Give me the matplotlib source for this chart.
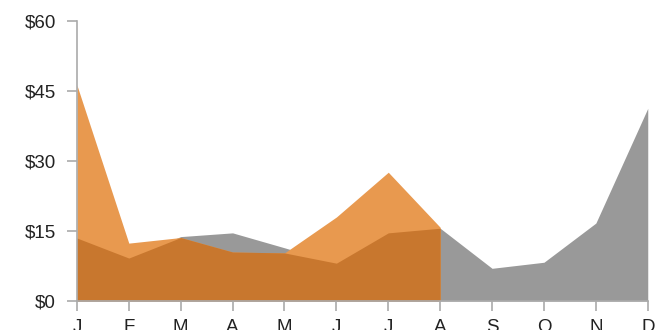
import numpy as np
import matplotlib.pyplot as plt

plt.rcParams['font.family'] = ['Liberation Sans', 'DejaVu Sans']

# Data
months = ['J', 'F', 'M', 'A', 'M', 'J', 'J', 'A', 'S', 'O', 'N', 'D']
gray_vals = [13.5, 9.2, 13.8, 14.6, 11.4, 8.1, 14.6, 15.6, 7.0, 8.3, 16.7, 41.3]
orange_vals = [46.3, 12.4, 13.6, 10.5, 10.3, 18.0, 27.6, 15.8]
y_ticks = [0, 15, 30, 45, 60]

x = np.arange(len(months))
xo = x[:len(orange_vals)]
overlap = np.minimum(np.array(gray_vals[:len(orange_vals)]), np.array(orange_vals))

fig = plt.figure(figsize=(6.63, 3.3), dpi=100)
ax = fig.add_axes([0.116, 0.088, 0.861, 0.848])

ax.fill_between(x, 0, gray_vals, color='#999999', lw=0)
ax.fill_between(xo, 0, orange_vals, color='#E8994F', lw=0)
ax.fill_between(xo, 0, overlap, color='#C8772E', lw=0)

ax.set_xlim(0, len(months) - 1)
ax.set_ylim(0, 60)
ax.set_xticks(x)
ax.set_xticklabels(months)
ax.set_yticks(y_ticks)
ax.set_yticklabels(['$' + str(v) for v in y_ticks])

for s in ['top', 'right']:
    ax.spines[s].set_visible(False)
for s in ['left', 'bottom']:
    ax.spines[s].set_color('#aaaaaa')
    ax.spines[s].set_linewidth(1.2)

ax.tick_params(axis='both', colors='#aaaaaa', labelcolor='#222222',
               labelsize=13.5, length=7, width=1.2)
ax.tick_params(axis='y', pad=8)
ax.tick_params(axis='x', pad=6)

fig.savefig('out.png', dpi=100)
